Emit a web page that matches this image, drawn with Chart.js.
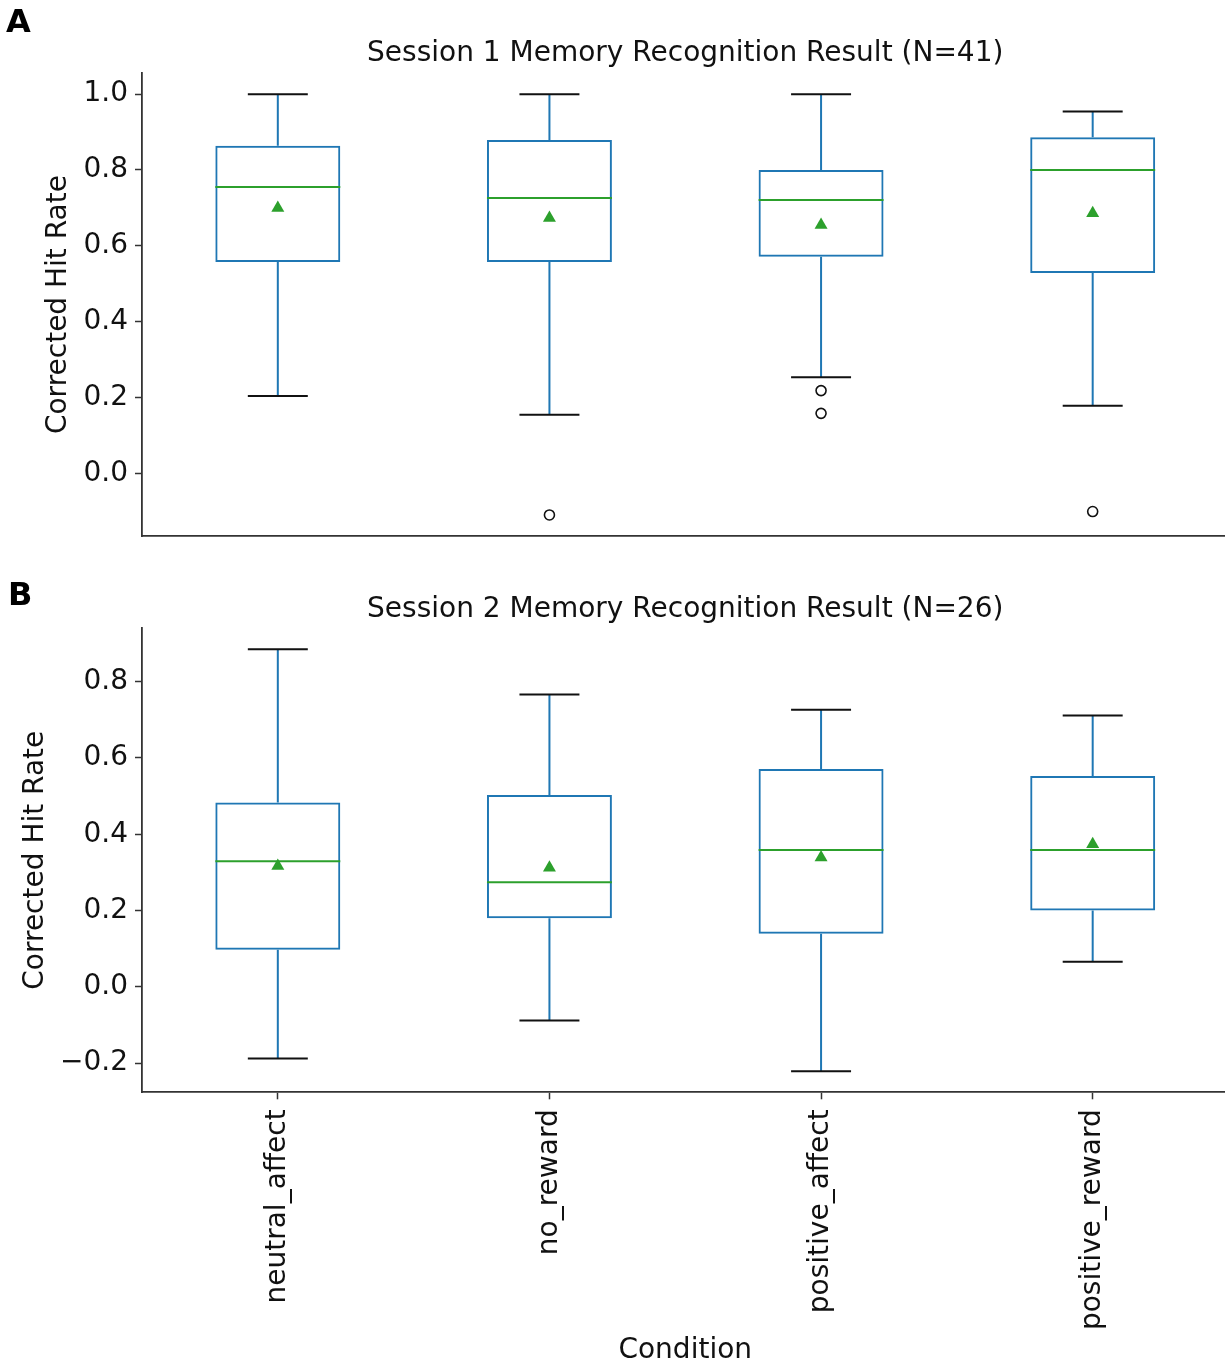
<!DOCTYPE html>
<html>
<head>
<meta charset="utf-8">
<script src="https://cdn.jsdelivr.net/npm/chart.js@4.4.1/dist/chart.umd.min.js"></script>
<style>
  html, body { margin: 0; padding: 0; background: #fff; overflow: hidden; width: 1225px; height: 1365px; }
  #wrap { position: relative; width: 1236px; height: 1365px; }
  canvas { position: absolute; left: 0; }
  .panel { position: absolute; font-family: 'DejaVu Sans', sans-serif; font-weight: bold; font-size: 32px; line-height: 32px; color: #000; }
</style>
</head>
<body>
<div id="wrap">
  <canvas id="cA" width="1236" height="560" style="top:0px"></canvas>
  <canvas id="cB" width="1236" height="805" style="top:560px"></canvas>
  <div class="panel" style="left:6px; top:5px;">A</div>
  <div class="panel" style="left:8px; top:578px;">B</div>
</div>
<script>
// ---------- data ----------
const categories = ['neutral_affect', 'no_reward', 'positive_affect', 'positive_reward'];

// Session 1 (N=41)
const s1Title = 'Session 1 Memory Recognition Result (N=41)';
const s1Lower  = [0.204, 0.154, 0.253, 0.178];
const s1Q1     = [0.557, 0.557, 0.571, 0.528];
const s1Median = [0.755, 0.726, 0.721, 0.800];
const s1Q3     = [0.864, 0.879, 0.800, 0.886];
const s1Upper  = [1.000, 1.000, 1.000, 0.954];
const s1Mean   = [0.700, 0.673, 0.655, 0.686];
const s1OutlierCats = ['no_reward', 'positive_affect', 'positive_affect', 'positive_reward'];
const s1OutlierVals = [-0.110, 0.218, 0.158, -0.101];
const s1Ticks = [0.0, 0.2, 0.4, 0.6, 0.8, 1.0];
const s1Range = [-0.1655, 1.0555];

// Session 2 (N=26)
const s2Title = 'Session 2 Memory Recognition Result (N=26)';
const s2Lower  = [-0.188, -0.088, -0.221, 0.066];
const s2Q1     = [0.097, 0.180, 0.139, 0.200];
const s2Median = [0.329, 0.274, 0.359, 0.359];
const s2Q3     = [0.483, 0.503, 0.571, 0.553];
const s2Upper  = [0.885, 0.766, 0.726, 0.711];
const s2Mean   = [0.317, 0.312, 0.339, 0.374];
const s2OutlierCats = [];
const s2OutlierVals = [];
const s2Ticks = [-0.2, 0.0, 0.2, 0.4, 0.6, 0.8];
const s2Range = [-0.2763, 0.9403];

const yLabel = 'Corrected Hit Rate';
const xLabel = 'Condition';

// ---------- styling ----------
const BLUE = '#1f77b4', GREEN = '#2ca02c', AX = '#333333', TXT = '#111111';
Chart.defaults.font.family = "'DejaVu Sans', sans-serif";
Chart.defaults.font.size = 28;
Chart.defaults.color = TXT;

function boxExtrasPlugin(lower, q1, med, q3, upper) {
  return {
    id: 'boxExtras',
    afterDatasetDraw(chart, args) {
      if (args.index !== 0) return;
      const ctx = chart.ctx, xs = chart.scales.x, ys = chart.scales.y;
      const meta = chart.getDatasetMeta(0);
      ctx.save();
      ctx.lineCap = 'butt';
      categories.forEach((c, i) => {
        const cx = xs.getPixelForValue(i);
        const bw = meta.data[i].width;
        const capHalf = bw * 0.24;
        const px = v => ys.getPixelForValue(v);
        // whiskers
        ctx.strokeStyle = BLUE; ctx.lineWidth = 2;
        ctx.beginPath();
        ctx.moveTo(cx, px(q1[i])); ctx.lineTo(cx, px(lower[i]));
        ctx.moveTo(cx, px(q3[i])); ctx.lineTo(cx, px(upper[i]));
        ctx.stroke();
        // caps
        ctx.strokeStyle = '#111'; ctx.lineWidth = 2;
        ctx.beginPath();
        ctx.moveTo(cx - capHalf, px(lower[i])); ctx.lineTo(cx + capHalf, px(lower[i]));
        ctx.moveTo(cx - capHalf, px(upper[i])); ctx.lineTo(cx + capHalf, px(upper[i]));
        ctx.stroke();
        // median
        ctx.strokeStyle = GREEN; ctx.lineWidth = 2;
        ctx.beginPath();
        ctx.moveTo(cx - bw / 2, px(med[i])); ctx.lineTo(cx + bw / 2, px(med[i]));
        ctx.stroke();
      });
      ctx.restore();
    }
  };
}

function fmt(v) {
  const s = Number(v).toFixed(1);
  return s === '-0.0' ? '0.0' : s.replace('-', '\u2212');
}

function makeChart(canvasId, cfg) {
  const outliers = cfg.outCats.map((c, i) => ({ x: c, y: cfg.outVals[i] }));
  return new Chart(document.getElementById(canvasId), {
    type: 'bar',
    data: {
      labels: categories,
      datasets: [
        {
          type: 'bar',
          data: cfg.q1.map((v, i) => [v, cfg.q3[i]]),
          backgroundColor: 'rgba(0,0,0,0)',
          borderColor: BLUE,
          borderWidth: 2,
          borderSkipped: false,
          barPercentage: 0.46,
          categoryPercentage: 1.0,
          order: 3
        },
        {
          type: 'line',
          data: cfg.mean,
          showLine: false,
          pointStyle: 'triangle',
          pointRadius: 7.5,
          pointBackgroundColor: GREEN,
          pointBorderColor: GREEN,
          pointBorderWidth: 0,
          order: 2
        },
        {
          type: 'line',
          data: outliers,
          showLine: false,
          pointStyle: 'circle',
          pointRadius: 5,
          pointBackgroundColor: 'rgba(0,0,0,0)',
          pointBorderColor: '#111',
          pointBorderWidth: 1.6,
          order: 1
        }
      ]
    },
    options: {
      responsive: false,
      animation: false,
      devicePixelRatio: 1,
      layout: { padding: { left: 0, right: 2, top: 0, bottom: cfg.bottomPad } },
      plugins: {
        legend: { display: false },
        tooltip: { enabled: false },
        title: {
          display: true,
          text: cfg.title,
          fullSize: false,
          font: { size: 28, weight: 'normal', lineHeight: 1.2 },
          color: TXT,
          padding: { top: cfg.titleTop, bottom: cfg.titleBottom }
        }
      },
      scales: {
        x: {
          type: 'category',
          offset: true,
          grid: { display: cfg.showX, offset: false, drawOnChartArea: false, drawTicks: true, tickLength: 7, tickColor: AX, tickWidth: 1.5 },
          border: { display: true, color: AX, width: 1.8 },
          ticks: { display: cfg.showX, autoSkip: false, minRotation: 90, maxRotation: 90, padding: 10, color: TXT, font: { size: 28 } },
          title: { display: cfg.showX, text: xLabel, color: TXT, font: { size: 28 }, padding: { top: 0, bottom: -3 } },
          afterFit: s => { s.height = cfg.xHeight; }
        },
        y: {
          type: 'linear',
          min: cfg.range[0],
          max: cfg.range[1],
          grid: { display: true, drawOnChartArea: false, drawTicks: true, tickLength: 7, tickColor: AX, tickWidth: 1.5 },
          border: { display: true, color: AX, width: 1.8 },
          afterBuildTicks: s => { s.ticks = cfg.ticks.map(v => ({ value: v })); },
          ticks: { padding: 7, color: TXT, font: { size: 28 }, callback: v => fmt(v) },
          title: { display: true, text: yLabel, color: TXT, font: { size: 28 }, padding: { top: cfg.yTitlePad, bottom: 0 } },
          afterFit: s => { s.width = 142; }
        }
      }
    },
    plugins: [boxExtrasPlugin(cfg.lower, cfg.q1, cfg.med, cfg.q3, cfg.upper)]
  });
}

makeChart('cA', {
  title: s1Title, lower: s1Lower, q1: s1Q1, med: s1Median, q3: s1Q3, upper: s1Upper, mean: s1Mean,
  outCats: s1OutlierCats, outVals: s1OutlierVals, ticks: s1Ticks, range: s1Range,
  showX: false, xHeight: 0, bottomPad: 24, titleTop: 37, titleBottom: 2.5, yTitlePad: 42
});
makeChart('cB', {
  title: s2Title, lower: s2Lower, q1: s2Q1, med: s2Median, q3: s2Q3, upper: s2Upper, mean: s2Mean,
  outCats: s2OutlierCats, outVals: s2OutlierVals, ticks: s2Ticks, range: s2Range,
  showX: true, xHeight: 272.7, bottomPad: 0, titleTop: 33, titleBottom: 1.5, yTitlePad: 19
});
</script>
</body>
</html>
